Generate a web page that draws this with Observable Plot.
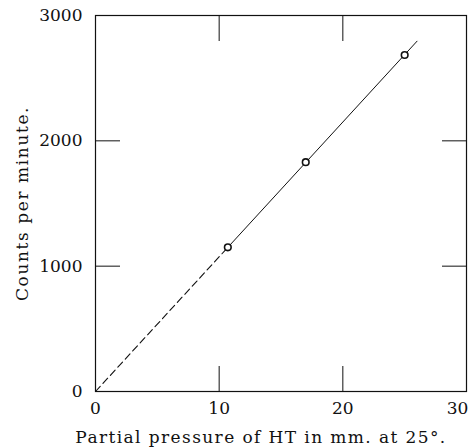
<!DOCTYPE html>
<html>
<head>
<meta charset="utf-8">
<script src="https://cdn.jsdelivr.net/npm/d3@7"></script>
<script src="https://cdn.jsdelivr.net/npm/@observablehq/plot@0.6"></script>
<style>
  html, body { margin: 0; padding: 0; background: #fff; }
  svg { display: block; }
</style>
</head>
<body>
<div id="chart"></div>
<script>
// Measured points
const pressure = [10.7, 17.0, 25.0];
const counts = [1150, 1830, 2685];

// Fitted straight line (dashed part from origin, solid part through data)
const dashX = [0, 10.7];
const dashY = [0, 1150];
const solidX = [10.7, 26];
const solidY = [1150, 2795];

// Tick labels / positions
const xTickLabels = [0, 10, 20];
const xLastTick = [30];
const yTickLabels = [0, 1000, 2000, 3000];
const xInnerTicks = [10, 20];
const yInnerTicks = [1000, 2000];

const xTitle = "Partial pressure of HT in mm. at 25°.";
const yTitle = "Counts per minute.";

const pts = pressure.map((p, i) => ({x: p, y: counts[i]}));
const dashLine = dashX.map((x, i) => ({x, y: dashY[i]}));
const solidLine = solidX.map((x, i) => ({x, y: solidY[i]}));

const font = "DejaVu Serif, Liberation Serif, serif";

const chart = Plot.plot({
  width: 469,
  height: 447,
  marginLeft: 95,
  marginRight: 3,
  marginTop: 15,
  marginBottom: 56,
  style: {fontFamily: font, fontSize: "16px", color: "#111", background: "#fff"},
  x: {domain: [0, 30]},
  y: {domain: [0, 3000]},
  marks: [
    Plot.frame({stroke: "#111", strokeWidth: 1.2}),
    // inward ticks
    Plot.axisX({anchor: "bottom", ticks: xInnerTicks, tickSize: -25, tickFormat: () => "", label: null, stroke: "#111"}),
    Plot.axisX({anchor: "top", ticks: xInnerTicks, tickSize: -25, tickFormat: () => "", label: null, stroke: "#111"}),
    Plot.axisY({anchor: "left", ticks: yInnerTicks, tickSize: -25, tickFormat: () => "", label: null, stroke: "#111"}),
    Plot.axisY({anchor: "right", ticks: yInnerTicks, tickSize: -25, tickFormat: () => "", label: null, stroke: "#111"}),
    // tick labels
    Plot.axisX({anchor: "bottom", ticks: xTickLabels, tickSize: 0, tickPadding: 10, label: null, fontSize: 17, fill: "#111"}),
    Plot.axisX({anchor: "bottom", ticks: xLastTick, tickSize: 0, tickPadding: 10, label: null, fontSize: 17, fill: "#111", dx: -9}),
    Plot.axisY({anchor: "left", ticks: yTickLabels, tickSize: 0, tickPadding: 13, tickFormat: d => String(d), label: null, fontSize: 17, fill: "#111"}),
    // titles
    Plot.text([yTitle], {frameAnchor: "left", dx: -73, rotate: -90, textAnchor: "middle", text: d => d, fontSize: 17, fill: "#111", style: "letter-spacing:1.6px"}),
    Plot.text([xTitle], {frameAnchor: "bottom", dy: 46, dx: -20, textAnchor: "middle", lineAnchor: "middle", text: d => d, fontSize: 17, fill: "#111"}),
    // fitted line
    Plot.line(dashLine, {x: "x", y: "y", stroke: "#111", strokeWidth: 1.1, strokeDasharray: "7,4"}),
    Plot.line(solidLine, {x: "x", y: "y", stroke: "#111", strokeWidth: 1}),
    // data points
    Plot.dot(pts, {x: "x", y: "y", r: 3.3, stroke: "#111", strokeWidth: 1.6, fill: "#fff"})
  ]
});
// widen title letter spacing to match the original typesetting
chart.querySelectorAll("text").forEach(t => {
  if (t.textContent === xTitle) t.setAttribute("letter-spacing", "1.4");
  if (t.textContent === yTitle) t.setAttribute("letter-spacing", "1.6");
});
document.getElementById("chart").appendChild(chart);
</script>
</body>
</html>
